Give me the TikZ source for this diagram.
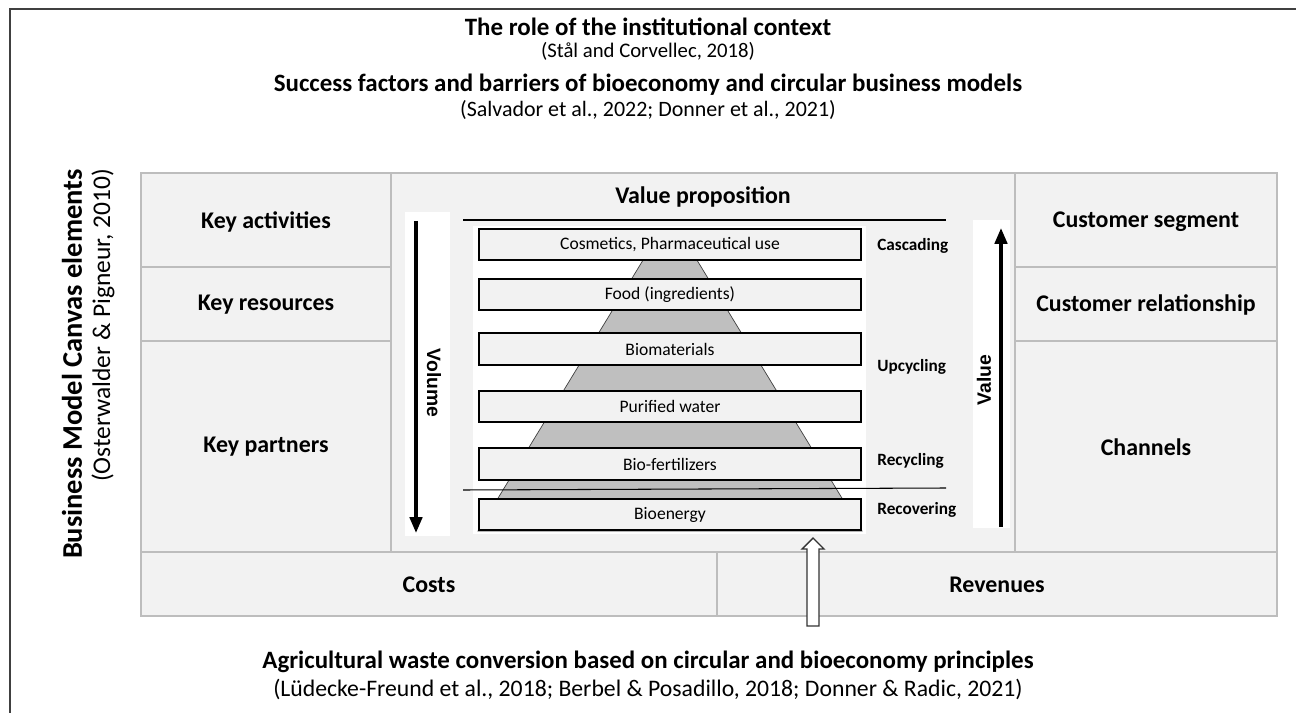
\documentclass[tikz,border=0pt]{standalone}
\usepackage{fontspec}
\setmainfont{Carlito}
\newfontfamily\arialfont{Liberation Sans}
\usetikzlibrary{arrows.meta}
\definecolor{cellgray}{HTML}{F2F2F2}
\definecolor{cellline}{HTML}{BDBDBD}
\definecolor{pyrgray}{HTML}{BFBFBF}
\definecolor{framegray}{HTML}{404040}
\tikzset{
  cell/.style={fill=cellgray,draw=cellline,line width=0.9pt},
  celltext/.style={font=\bfseries\fontsize{13.6}{16}\selectfont},
  headtext/.style={font=\bfseries\fontsize{14.2}{17}\selectfont},
  citetext/.style={font=\fontsize{12.5}{15}\selectfont},
  level/.style={fill=cellgray,draw=black,line width=1.1pt,minimum width=7.64cm,minimum height=0.63cm,inner sep=0pt,font=\fontsize{10}{12}\selectfont},
  tagtext/.style={anchor=west,inner sep=0pt,font=\bfseries\fontsize{9.8}{12}\selectfont},
  bigarrow/.style={line width=2pt,-{Triangle[length=9pt,width=7pt]}},
}
\begin{document}
\begin{tikzpicture}[x=0.02cm,y=-0.02cm]
  \useasboundingbox (0,0) rectangle (1296,713);
  \clip (0,0) rectangle (1296,713);
  \fill[white] (0,0) rectangle (1296,713);
  % outer frame
  \draw[framegray,line width=1.1pt] (10,9) rectangle (1320,740);

  % titles
  \node[headtext] (context) at (648,27) {The role of the institutional context};
  \node[citetext,font=\fontsize{11.8}{14}\selectfont] (contextcite) at (648,51) {(Stål and Corvellec, 2018)};
  \node[headtext] (success) at (648,85) {Success factors and barriers of bioeconomy and circular business models};
  \node[citetext] (successcite) at (648,110) {(Salvador et al., 2022; Donner et al., 2021)};
  \node[headtext] (waste) at (648,662) {Agricultural waste conversion based on circular and bioeconomy principles};
  \node[citetext,font=\fontsize{13.5}{16}\selectfont] (wastecite) at (648,689) {(Lüdecke-Freund et al., 2018; Berbel \& Posadillo, 2018; Donner \& Radic, 2021)};
  \node[headtext,font=\bfseries\fontsize{16.2}{19}\selectfont,rotate=90,anchor=east] (bmc) at (72,163) {Business Model Canvas elements};
  \node[citetext,font=\fontsize{14.5}{17}\selectfont,rotate=90,anchor=east] (bmccite) at (103,163) {(Osterwalder \& Pigneur, 2010)};

  % canvas cells
  \draw[cell] (141,173) rectangle (391,267);
  \draw[cell] (141,267) rectangle (391,341);
  \draw[cell] (141,341) rectangle (391,552);
  \draw[cell] (391,173) rectangle (1015,552);
  \draw[cell] (1015,173) rectangle (1277,267);
  \draw[cell] (1015,267) rectangle (1277,341);
  \draw[cell] (1015,341) rectangle (1277,552);
  \draw[cell] (141,552) rectangle (717,616);
  \draw[cell] (717,552) rectangle (1277,616);

  \node[celltext] (keyact) at (266,222) {Key activities};
  \node[celltext] (keyres) at (266,305) {Key resources};
  \node[celltext] (keypart) at (266,447) {Key partners};
  \node[celltext] (valprop) at (703,197) {Value proposition};
  \node[celltext] (custseg) at (1146,222) {Customer segment};
  \node[celltext] (custrel) at (1146,305) {Customer relationship};
  \node[celltext] (channels) at (1146,447) {Channels};
  \node[celltext] (costs) at (429,585) {Costs};
  \node[celltext] (revenues) at (997,585) {Revenues};

  % white backgrounds
  \fill[white] (405,212) rectangle (450,536);
  \fill[white] (973,220) rectangle (1010,528);
  \fill[white] (473,226) rectangle (866,534);

  % pyramid
  \filldraw[fill=pyrgray,draw=black!75,line width=0.4pt] (662,229) -- (678,229) -- (862,531) -- (478,531) -- cycle;
  \draw[line width=0.6pt] (463,220) -- (946,220);
  \draw[line width=0.6pt] (463,490) -- (946,488);

  \node[level] (cosmetics) at (670,244.5) {Cosmetics, Pharmaceutical use};
  \node[level] (food) at (670,294.5) {Food (ingredients)};
  \node[level] (biomat) at (670,349) {Biomaterials};
  \node[level] (water) at (670,406.5) {Purified water};
  \node[level] (biofert) at (670,464) {Bio-fertilizers};
  \node[level] (bioenergy) at (670,514.5) {Bioenergy};

  \node[tagtext] (cascading) at (877,246) {Cascading};
  \node[tagtext] (upcycling) at (877,367) {Upcycling};
  \node[tagtext] (recycling) at (877,461) {Recycling};
  \node[tagtext] (recovering) at (877,510) {Recovering};

  % volume and value arrows
  \coordinate (voltop) at (416,221);
  \coordinate (volbot) at (416,533);
  \draw[bigarrow] (voltop) -- (volbot);
  \node[rotate=-90,font=\arialfont\bfseries\fontsize{11}{13}\selectfont] (volume) at (434,383) {Volume};
  \coordinate (valbot) at (1001,527);
  \coordinate (valtop) at (1001,228);
  \draw[bigarrow] (valbot) -- (valtop);
  \node[rotate=90,font=\arialfont\bfseries\fontsize{11}{13}\selectfont] (value) at (984,380) {Value};

  % input arrow
  \filldraw[fill=white,draw=black!80,line width=0.8pt] (807,626) -- (807,549) -- (802,549) -- (813,538) -- (824,549) -- (819,549) -- (819,626) -- cycle;
\end{tikzpicture}
\end{document}
